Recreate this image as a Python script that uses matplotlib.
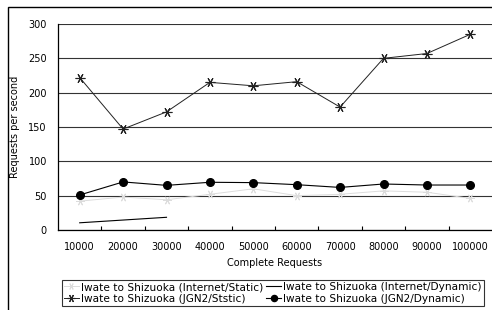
import matplotlib.pyplot as plt
from matplotlib.patches import Rectangle

plt.rcParams['font.family'] = ['DejaVu Sans']

# category axis labels
requests = ['10000', '20000', '30000', '40000', '50000',
            '60000', '70000', '80000', '90000', '100000']

# values
internet_static = [42, 48, 44, 52, 60, 50, 52, 57, 55, 46]
internet_dynamic = [10.5, 14.5, 18.5]
jgn2_static = [222, 147, 172, 215, 210, 216, 179, 250, 257, 285]
jgn2_dynamic = [51, 70, 65, 69.5, 69, 66, 62, 67, 65.5, 65.5]

fig = plt.figure(figsize=(4.92, 3.10), dpi=100)
ax = fig.add_axes([58 / 492, 1 - 230 / 310, 1 - 58 / 492, 206 / 310])

x = list(range(len(requests)))

l1, = ax.plot(x, internet_static, color='#dcdcdc', lw=0.7,
              marker=(6, 2, 90), ms=6, mew=0.7,
              label='Iwate to Shizuoka (Internet/Static)')
l2, = ax.plot(x[:len(internet_dynamic)], internet_dynamic, color='black', lw=0.8,
              label='Iwate to Shizuoka (Internet/Dynamic)')
l3, = ax.plot(x, jgn2_static, color='#222222', lw=0.7,
              marker=(6, 2, 90), ms=7, mew=0.8,
              label='Iwate to Shizuoka (JGN2/Ststic)')
l4, = ax.plot(x, jgn2_dynamic, color='black', lw=0.8,
              marker='o', ms=5.5,
              label='Iwate to Shizuoka (JGN2/Dynamic)')

ax.set_xlim(-0.5, len(requests) - 0.5)
ax.set_ylim(0, 300)
ax.set_yticks(range(0, 301, 50))
ax.set_xticks(x)
ax.set_xticklabels(requests)
ax.set_xticks([i + 0.5 for i in x[:-1]], minor=True)
ax.tick_params(axis='x', which='major', length=0, pad=9, labelsize=7)
ax.tick_params(axis='x', which='minor', direction='in', length=3, width=0.8)
ax.tick_params(axis='y', length=0, pad=8, labelsize=7)
ax.yaxis.grid(True, color='#333333', lw=0.8)
ax.set_axisbelow(True)
for s in ['top', 'right']:
    ax.spines[s].set_visible(False)
ax.spines['left'].set_linewidth(0.9)
ax.spines['bottom'].set_linewidth(0.9)

ax.set_xlabel('Complete Requests', fontsize=7, labelpad=4)
ax.set_ylabel('Requests per second', fontsize=7, labelpad=6)

leg = fig.legend(handles=[l1, l3, l2, l4], ncol=2, fontsize=7.6,
                 loc='upper left',
                 bbox_to_anchor=(62 / 492, 1 - 280 / 310),
                 frameon=True, fancybox=False, edgecolor='black',
                 handlelength=1.4, handletextpad=0.2, labelspacing=0.15,
                 borderpad=0.2, borderaxespad=0, columnspacing=0.3,
                 markerscale=0.8)
leg.get_frame().set_linewidth(0.8)

fig.patches.append(Rectangle((8 / 492, -0.05), 1.0, 1 - 7 / 310 + 0.05,
                             transform=fig.transFigure, fill=False,
                             edgecolor='black', lw=1.0))

fig.savefig('out.png', dpi=100)
